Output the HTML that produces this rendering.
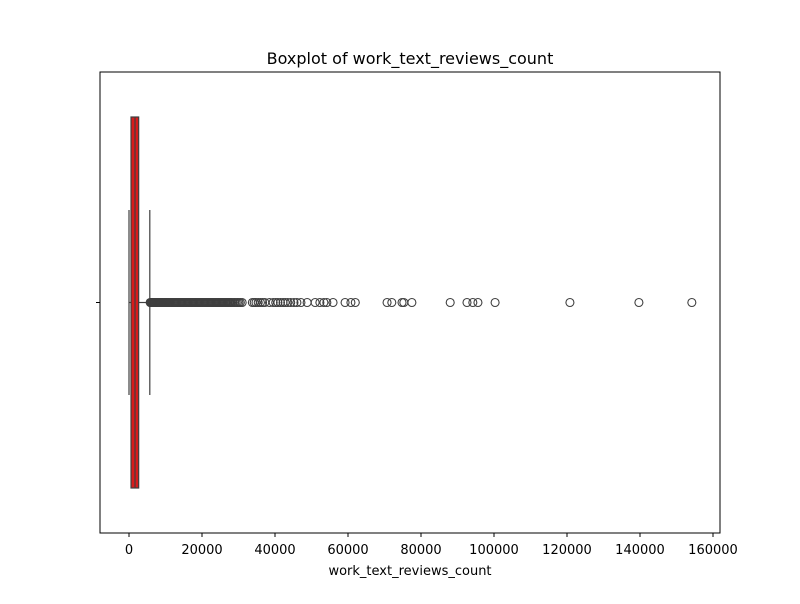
<!DOCTYPE html>
<html><head><meta charset="utf-8"><style>
body{margin:0;background:#fff;font-family:"DejaVu Sans","Liberation Sans",sans-serif}
</style></head><body>
<svg id="chart" width="800" height="600" xmlns="http://www.w3.org/2000/svg" font-family="DejaVu Sans, Liberation Sans, sans-serif">
<rect width="800" height="600" fill="#fff"/>
<text x="410" y="64" font-size="16" text-anchor="middle">Boxplot of work_text_reviews_count</text>
<text x="410" y="575" font-size="13" text-anchor="middle">work_text_reviews_count</text>
<g id="ticks"></g>
<g id="marks"></g>
<rect x="100" y="72" width="620" height="461" fill="none" stroke="#000" stroke-width="1"/>
<line x1="96" y1="302.5" x2="100" y2="302.5" stroke="#000"/>
</svg>
<script>
const tickValues=[0,20000,40000,60000,80000,100000,120000,140000,160000];
const tickLabels=["0","20000","40000","60000","80000","100000","120000","140000","160000"];
const stats={whiskerLow:0,q1:550,median:1650,q3:2650,whiskerHigh:5700};
const outliers=[5800,5950,6100,6250,6400,6550,6700,6850,7000,7200,7400,7600,7800,8000,8200,8400,8600,8800,9000,9250,9500,9750,10000,10250,10500,10750,11000,11300,11600,11900,12200,12500,12800,13100,13400,13700,14000,14300,14600,14900,15200,15500,15800,16100,16400,16700,17000,17300,17600,17900,18200,18500,18800,19100,19400,19700,20000,20300,20600,20900,21200,21500,21800,22100,22400,22700,23000,23300,23600,23900,24200,24500,24800,25100,25400,25700,26000,26300,26600,26900,27200,27500,27800,28100,28500,28900,29300,29700,30100,30500,31000,33800,34300,34800,35400,36000,36600,37200,38500,39500,40200,40800,41500,42200,42800,43500,44300,45200,46000,47100,48800,51000,52300,53400,54200,55900,59200,60800,62000,70700,72000,74800,75300,77500,88000,92600,94200,95600,100300,120800,139700,154200];
const NS="http://www.w3.org/2000/svg";
function x(v){return 129+v*(584/160000);}
const tg=document.getElementById('ticks'),mg=document.getElementById('marks');
function el(tag,attrs,parent){const e=document.createElementNS(NS,tag);for(const k in attrs)e.setAttribute(k,attrs[k]);parent.appendChild(e);return e;}
tickValues.forEach((v,i)=>{
 const l=el('line',{x1:x(v),x2:x(v),y1:533,y2:537,stroke:'#000'},tg);
 
 
 const t=el('text',{x:x(v),y:554,'font-size':13,'text-anchor':'middle'},tg);
 t.textContent=tickLabels[i];
 
 
});
const cy=302.5;
const w1=el('line',{x1:x(stats.whiskerLow),x2:x(stats.q1),y1:cy,y2:cy,stroke:'#3f3f3f','stroke-width':1.2},mg);


const w2=el('line',{x1:x(stats.q3),x2:x(stats.whiskerHigh),y1:cy,y2:cy,stroke:'#3f3f3f','stroke-width':1.2},mg);


const c1=el('line',{x1:x(stats.whiskerLow),x2:x(stats.whiskerLow),y1:210,y2:395,stroke:'#3f3f3f','stroke-width':1.2},mg);


const c2=el('line',{x1:x(stats.whiskerHigh),x2:x(stats.whiskerHigh),y1:210,y2:395,stroke:'#3f3f3f','stroke-width':1.2},mg);


const b=el('rect',{x:x(stats.q1),y:117,width:x(stats.q3)-x(stats.q1),height:371,fill:'#d61c1c',stroke:'#3f3f3f','stroke-width':1.2},mg);


const m=el('line',{x1:x(stats.median),x2:x(stats.median),y1:117,y2:488,stroke:'#3f3f3f','stroke-width':1.2},mg);


outliers.forEach(v=>{
 const c=el('circle',{cx:x(v),cy:cy,r:4,fill:'none',stroke:'#3f3f3f','stroke-width':1.1},mg);
 
 
});
</script>
</body></html>
